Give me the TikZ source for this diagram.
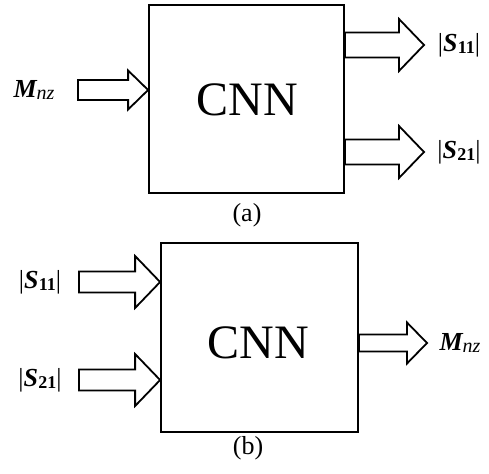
\documentclass[tikz,border=0pt]{standalone}
\usepackage{fontspec}
\setmainfont{Liberation Serif}
\usetikzlibrary{calc}
\tikzset{
  cnnbox/.style={draw,line width=1.8pt,minimum width=#1,inner sep=0pt},
  arrowline/.style={draw,fill=white,line width=1.8pt,line join=miter},
  labeltext/.style={font=\fontsize{26}{28}\selectfont,inner sep=0pt},
  cnntext/.style={font=\fontsize{48}{50}\selectfont,inner sep=0pt},
  captext/.style={font=\fontsize{26}{28}\selectfont,inner sep=0pt}
}
\newcommand{\Smag}[1]{|\textbf{\textit{S}}\kern0.3pt\raisebox{-0.2ex}{\fontsize{18}{20}\selectfont\bfseries #1}|}
\newcommand{\Mnz}{\textbf{\textit{M}}\kern-1pt\raisebox{-0.2ex}{\fontsize{20}{22}\selectfont\itshape nz}}
% tail, tip, shaft half width, head half width, head length
\newcommand{\hollowarrow}[5]{%
  \draw[arrowline] ($(#1)+(0,#3)$) -- ($(#2)+(-#5,#3)$) -- ($(#2)+(-#5,#4)$)
    -- (#2) -- ($(#2)+(-#5,-#4)$) -- ($(#2)+(-#5,-#3)$) -- ($(#1)+(0,-#3)$) -- cycle;}

\begin{document}
\begin{tikzpicture}[x=1pt,y=-1pt]
  \useasboundingbox (0,0) rectangle (489,473);
  % (a)
  \node[cnnbox=195pt,minimum height=188pt] (boxA) at (246.5,99) {};
  \node[cnntext] (cnnA) at (247,100) {CNN};
  \node[labeltext] (mnzA) at (34,90) {\Mnz};
  \node[labeltext] (sOneA) at (459,45) {\Smag{11}};
  \node[labeltext] (sTwoA) at (459,152) {\Smag{21}};
  \node[captext] (capA) at (247,215) {(a)};
  \coordinate (tailMa) at (78,90);
  \coordinate (tipMa) at (boxA.west |- tailMa);
  \coordinate (tailSa1) at (boxA.east |- sOneA);
  \coordinate (tipSa1) at (424,45);
  \coordinate (tailSa2) at (boxA.east |- sTwoA);
  \coordinate (tipSa2) at (424,152);
  \hollowarrow{tailMa}{tipMa}{10}{19.5}{20}
  \hollowarrow{tailSa1}{tipSa1}{12.5}{26}{25}
  \hollowarrow{tailSa2}{tipSa2}{12.5}{26}{25}
  % (b)
  \node[cnnbox=197pt,minimum height=189pt] (boxB) at (259.5,337.5) {};
  \node[cnntext] (cnnB) at (258,343) {CNN};
  \node[labeltext] (sOneB) at (40,282) {\Smag{11}};
  \node[labeltext] (sTwoB) at (40,380) {\Smag{21}};
  \node[labeltext] (mnzB) at (460,343) {\Mnz};
  \node[captext] (capB) at (248,448) {(b)};
  \coordinate (tailSb1) at (79,282);
  \coordinate (tipSb1) at (boxB.west |- tailSb1);
  \coordinate (tailSb2) at (79,380);
  \coordinate (tipSb2) at (boxB.west |- tailSb2);
  \coordinate (tailMb) at (boxB.east |- mnzB);
  \coordinate (tipMb) at (427,343);
  \hollowarrow{tailSb1}{tipSb1}{10.5}{26}{25}
  \hollowarrow{tailSb2}{tipSb2}{10.5}{26}{25}
  \hollowarrow{tailMb}{tipMb}{8.5}{20.5}{20}
\end{tikzpicture}
\end{document}
